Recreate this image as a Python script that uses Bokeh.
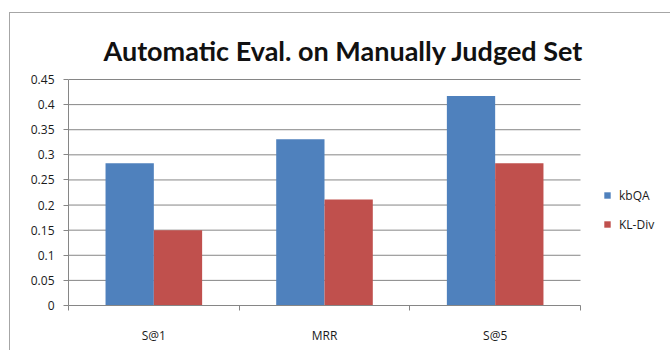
from bokeh.plotting import figure
from bokeh.models import (Range1d, FixedTicker, NumeralTickFormatter, Legend, LegendItem,
                          ColumnDataSource, Label)
from bokeh.embed import file_html
from bokeh.resources import INLINE

title_text = "Automatic Eval. on Manually Judged Set"
categories = ["S@1", "MRR", "S@5"]
series_names = ["kbQA", "KL-Div"]
kbqa = [0.283, 0.331, 0.417]
kldiv = [0.150, 0.211, 0.283]
y_ticks = [0, 0.05, 0.1, 0.15, 0.2, 0.25, 0.3, 0.35, 0.4, 0.45]

colors = ["#4F81BD", "#C0504D"]
bar_w = 0.283
n = len(categories)

W, H = 661, 338
border_left, border_bottom = 58, 46
plot_px_w, plot_px_h = 512, 226          # size of the gridded plot area
frame_px_w = W - border_left
frame_px_h = H - border_bottom
x_end = n * frame_px_w / plot_px_w
y_end = y_ticks[-1] * frame_px_h / plot_px_h

p = figure(width=W, height=H, output_backend="svg", toolbar_location=None,
           x_range=Range1d(0, x_end), y_range=Range1d(0, y_end),
           min_border_left=border_left, min_border_right=0, min_border_top=0,
           min_border_bottom=border_bottom)
p.title = None
p.outline_line_color = None
p.background_fill_color = "white"
p.border_fill_color = "white"
p.styles = {"margin-left": "9px", "margin-top": "12px",
            "border-left": "1px solid #a6a6a6", "border-top": "1px solid #a6a6a6"}

# horizontal grid lines, limited to the category area
p.xgrid.grid_line_color = None
p.ygrid.grid_line_color = None
grid_src = ColumnDataSource(dict(y=y_ticks, x0=[0] * len(y_ticks), x1=[n] * len(y_ticks)))
p.segment(x0="x0", y0="y", x1="x1", y1="y", source=grid_src, line_color="#868686", line_width=1)

centers = [i + 0.5 for i in range(n)]
src = ColumnDataSource(dict(
    xb=[c - bar_w / 2 for c in centers],
    xr=[c + bar_w / 2 for c in centers],
    kbqa=kbqa, kldiv=kldiv))
r1 = p.vbar(x="xb", top="kbqa", width=bar_w, source=src, fill_color=colors[0], line_color=None)
r2 = p.vbar(x="xr", top="kldiv", width=bar_w, source=src, fill_color=colors[1], line_color=None)

xa = p.xaxis[0]
xa.bounds = (0, n)
xa.ticker = FixedTicker(ticks=centers, minor_ticks=list(range(n + 1)))
xa.major_label_overrides = {c: lab for c, lab in zip(centers, categories)}
xa.major_tick_out = 0
xa.major_tick_in = 0
xa.minor_tick_out = 5
xa.minor_tick_in = 0
xa.minor_tick_line_color = "#868686"
xa.axis_line_color = "#868686"
xa.major_label_standoff = 16
xa.major_label_text_font = "Open Sans"
xa.major_label_text_font_size = "12px"
xa.major_label_text_color = "#1a1a1a"

ya = p.yaxis[0]
ya.bounds = (0, y_ticks[-1])
ya.ticker = FixedTicker(ticks=y_ticks)
ya.formatter = NumeralTickFormatter(format="0.[00]")
ya.major_tick_out = 5
ya.major_tick_in = 0
ya.minor_tick_line_color = None
ya.major_tick_line_color = "#868686"
ya.axis_line_color = "#868686"
ya.major_label_standoff = 9
ya.major_label_text_font = "Open Sans"
ya.major_label_text_font_size = "12px"
ya.major_label_text_color = "#1a1a1a"

# chart title, placed above the top grid line
title = Label(x=0, y=y_ticks[-1], x_offset=35, y_offset=29, text=title_text,
              text_font="Lato", text_font_style="bold", text_font_size="27px",
              text_color="#111111", text_baseline="alphabetic", text_align="left")
p.add_layout(title)

legend = Legend(items=[LegendItem(label=series_names[0], renderers=[r1]),
                       LegendItem(label=series_names[1], renderers=[r2])],
                location=(535, 71), glyph_width=8, glyph_height=8, label_height=20,
                spacing=9, label_standoff=8, padding=0, margin=0,
                border_line_color=None, background_fill_alpha=0,
                label_text_font="Open Sans", label_text_font_size="12px",
                label_text_color="#1a1a1a")
p.add_layout(legend, "center")

open("out.html", "w").write(file_html(p, INLINE))
